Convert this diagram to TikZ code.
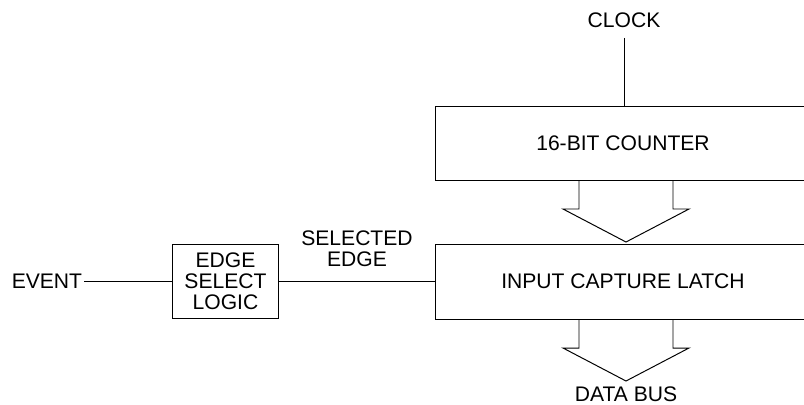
\documentclass[tikz,border=0pt]{standalone}
\usepackage{fontspec}
\setmainfont{Liberation Sans}
\usetikzlibrary{positioning, calc}
\begin{document}
\begin{tikzpicture}[x=0.025cm, y=-0.025cm, line width=0.7pt,
    every node/.style={font=\fontsize{15}{14.8}\selectfont},
    box/.style={draw, rectangle, inner sep=0pt, align=center},
    lbl/.style={inner sep=1pt, align=center}]
      \useasboundingbox (0, 0) rectangle (804, 404);
      \clip (0, 0) rectangle (804, 404);

      \node[box, minimum width=9.35cm, minimum height=1.85cm] (counter) at (623, 143) {16-BIT COUNTER};
      \node[box, minimum width=9.35cm, minimum height=1.875cm] (latch) at (623, 281.5) {INPUT CAPTURE LATCH};
      \node[box, minimum width=2.625cm, minimum height=1.85cm] (esl) at (225.5, 281) {EDGE\\SELECT\\LOGIC};

      \node[lbl] (clock) at (624, 20) {CLOCK};
      \node[lbl, anchor=east] (event) at (84, 281) {EVENT};
      \node[lbl] (seledge) at (357, 249) {SELECTED\\EDGE};
      \node[lbl] (databus) at (626, 394) {DATA BUS};

      \draw[shorten <=6pt] (clock.south) -- (clock.south |- counter.north);
      \draw (event.east) -- (esl.west);
      \draw (esl.east) -- (esl.east -| latch.west);

      % bus arrows
      \foreach \y in {180, 319}
        \draw (579, \y) -- (579, \y+29) -- (563, \y+29) -- (626, \y+62) -- (689, \y+29) -- (673, \y+29) -- (673, \y);

    \end{tikzpicture}
\end{document}
